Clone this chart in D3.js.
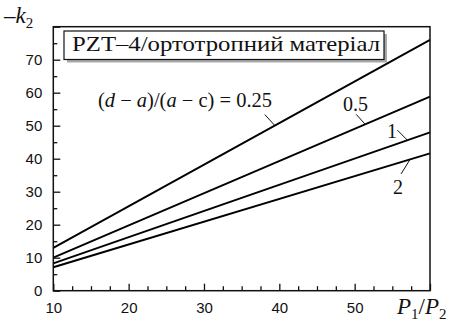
<!DOCTYPE html>
<html><head><meta charset="utf-8">
<script src="https://cdn.jsdelivr.net/npm/d3@7"></script>
<style>body{margin:0;background:#fff}svg{display:block}</style>
</head><body>
<svg id="c" width="464" height="323"></svg>
<script>
// data
const xRange = [10, 60];
const seriesNames = ["0.25", "0.5", "1", "2"];
const xVals = [10, 60];
const k025 = [13.0, 76.0];
const k05  = [10.0, 58.8];
const k1   = [8.3, 48.0];
const k2   = [7.1, 41.6];
const seriesValues = [k025, k05, k1, k2];
const xTickLabels = [10, 20, 30, 40, 50];
const yTickLabels = [0, 10, 20, 30, 40, 50, 60, 70];
const titleText = "PZT\u20134/ортотропний матеріал";
// leader anchor on each line (x value)
const leaderAt = [39.4, 51.4, 57.0, 57.35];

const svg = d3.select("#c");
const L = 53.3, R = 430, T = 26.7, B = 290.7;
const x = d3.scaleLinear().domain(xRange).range([L, R]);
const y = d3.scaleLinear().domain([0, 80]).range([B, T]);

const tickFont = '"Liberation Sans"';
const serif = '"Liberation Serif"';

// title box with shadow
svg.append("rect").attr("x", 67).attr("y", 34).attr("width", 320).attr("height", 28.5).attr("fill", "#a9a9a9");
svg.append("rect").attr("x", 64).attr("y", 31).attr("width", 320).attr("height", 28.5)
  .attr("fill", "#fff").attr("stroke", "#111").attr("stroke-width", 1.2);
svg.append("text").attr("x", 72).attr("y", 50.5).style("font-family", serif).style("font-size", "21px")
  .attr("textLength", 308).attr("lengthAdjust", "spacingAndGlyphs").attr("fill", "#111").text(titleText);

// lines
const line = d3.line().x((d, i) => x(xVals[i])).y(d => y(d));
seriesValues.forEach(v => {
  svg.append("path").datum(v).attr("d", line).attr("fill", "none").attr("stroke", "#000").attr("stroke-width", 1.9);
});

// axes
const gx = svg.append("g").attr("transform", `translate(0,${B})`)
  .call(d3.axisBottom(x).tickValues(xTickLabels.concat([60])).tickSizeInner(-7).tickSizeOuter(0).tickPadding(12)
    .tickFormat(d => d === 60 ? "" : d));
const gxm = svg.append("g").attr("transform", `translate(0,${B})`)
  .call(d3.axisBottom(x).tickValues(d3.range(12.5, 60, 2.5).filter(v => v % 10 !== 0)).tickSizeInner(-4.5).tickSizeOuter(0).tickFormat(""));
const gy = svg.append("g").attr("transform", `translate(${L},0)`)
  .call(d3.axisLeft(y).tickValues(yTickLabels.concat([80])).tickSizeInner(-7).tickSizeOuter(0).tickPadding(11)
    .tickFormat(d => d === 80 ? "" : d));
const gym = svg.append("g").attr("transform", `translate(${L},0)`)
  .call(d3.axisLeft(y).tickValues(d3.range(5, 80, 10)).tickSizeInner(-4).tickSizeOuter(0).tickFormat(""));
[gx, gxm, gy, gym].forEach(g => {
  g.attr("font-family", null).attr("font-size", null);
  g.select(".domain").remove();
  g.selectAll("line").attr("stroke", "#111").attr("stroke-width", 1.3);
  g.selectAll("text").style("font-family", tickFont).style("font-size", "15px").attr("fill", "#111");
});
gx.selectAll("text").attr("dy", "0.71em");

// frame
svg.append("rect").attr("x", L).attr("y", T).attr("width", R - L).attr("height", B - T)
  .attr("fill", "none").attr("stroke", "#111").attr("stroke-width", 1.5);

// axis titles
const yt = svg.append("text").attr("x", 4).attr("y", 23).style("font-family", serif).style("font-size", "23px").attr("fill", "#111");
yt.append("tspan").text("\u2013");
yt.append("tspan").style("font-style", "italic").text("k");
yt.append("tspan").style("font-size", "15px").attr("dy", 5).text("2");

const xt = svg.append("text").attr("x", 397).attr("y", 314).style("font-family", serif).style("font-size", "23px").attr("fill", "#111");
xt.append("tspan").style("font-style", "italic").text("P");
xt.append("tspan").style("font-size", "15px").attr("dy", 5).text("1");
xt.append("tspan").attr("dy", -5).text("/");
xt.append("tspan").style("font-style", "italic").text("P");
xt.append("tspan").style("font-size", "15px").attr("dy", 5).text("2");

// annotations
const ann = svg.append("text").attr("x", 98).attr("y", 107).style("font-family", serif).style("font-size", "20px")
  .attr("fill", "#111").attr("textLength", 174).attr("lengthAdjust", "spacingAndGlyphs");
ann.append("tspan").text("(");
ann.append("tspan").style("font-style", "italic").text("d");
ann.append("tspan").text(" \u2212 ");
ann.append("tspan").style("font-style", "italic").text("a");
ann.append("tspan").text(")/(");
ann.append("tspan").style("font-style", "italic").text("a");
ann.append("tspan").text(" \u2212 c) = " + seriesNames[0]);

const labelPos = [null, [343, 110.7], [387, 138], [393, 194]];
const leaderOff = [[-10, -11], [-9, -10], [-10, -10], [-9, 14.5]];
seriesValues.forEach((v, i) => {
  const px = x(leaderAt[i]);
  const py = y(v[0] + (v[1] - v[0]) * (leaderAt[i] - xVals[0]) / (xVals[1] - xVals[0]));
  svg.append("line").attr("x1", px).attr("y1", py).attr("x2", px + leaderOff[i][0]).attr("y2", py + leaderOff[i][1])
    .attr("stroke", "#111").attr("stroke-width", 1);
  if (labelPos[i]) {
    svg.append("text").attr("x", labelPos[i][0]).attr("y", labelPos[i][1]).style("font-family", serif)
      .style("font-size", "20px").attr("fill", "#111").text(seriesNames[i]);
  }
});
</script>
</body></html>
